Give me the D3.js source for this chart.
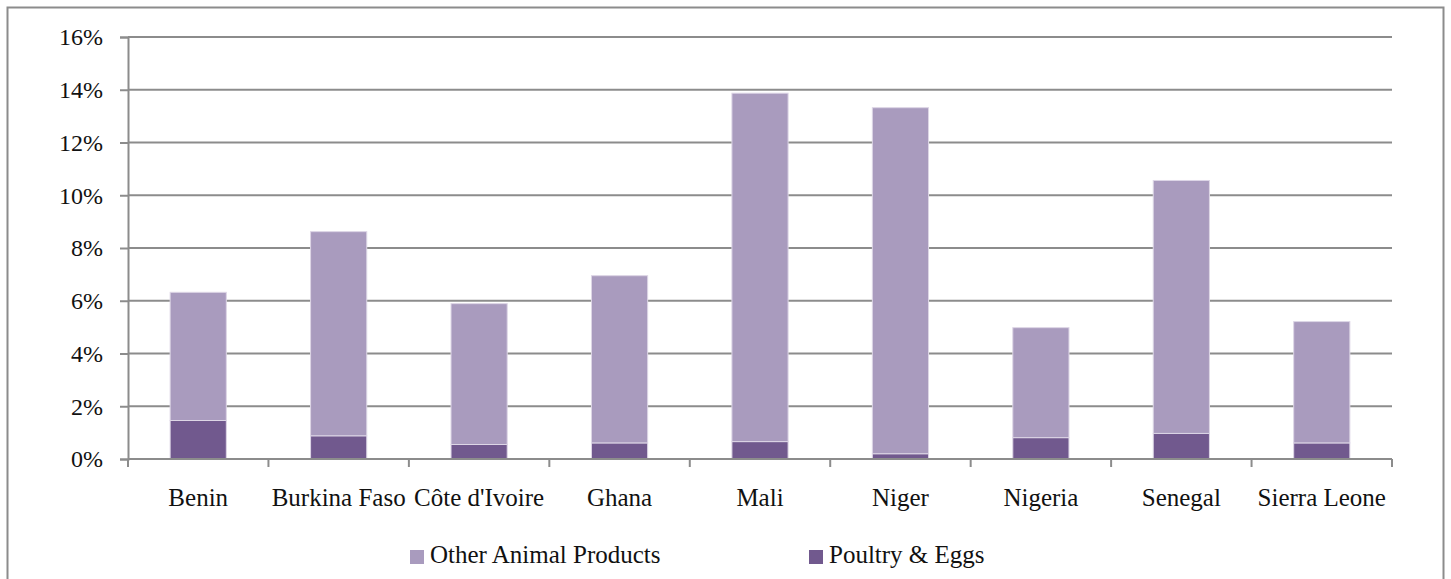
<!DOCTYPE html>
<html>
<head>
<meta charset="utf-8">
<script src="https://cdn.jsdelivr.net/npm/d3@7"></script>
<style>
  body { margin: 0; background: #fff; }
</style>
</head>
<body>
<div id="chart"></div>
<script>
var countries = ["Benin", "Burkina Faso", "Côte d'Ivoire", "Ghana", "Mali", "Niger", "Nigeria", "Senegal", "Sierra Leone"];
var poultryEggs = [1.46, 0.88, 0.55, 0.61, 0.66, 0.2, 0.81, 0.97, 0.61];
var otherAnimal = [4.86, 7.74, 5.34, 6.34, 13.21, 13.12, 4.17, 9.59, 4.6];
var yTicks = [0, 2, 4, 6, 8, 10, 12, 14, 16];
var seriesNames = ["Other Animal Products", "Poultry & Eggs"];
var seriesColors = ["#a99bbe", "#71598e"];

var FONT = "Liberation Serif";
var W = 1451, H = 579;
var margin = { top: 37, right: 59, bottom: 120, left: 128 };
var width = W - margin.left - margin.right,
    height = H - margin.top - margin.bottom;

var root = d3.select("#chart").append("svg")
    .attr("width", W)
    .attr("height", H);

// outer frame
root.append("rect")
    .attr("x", 7.5).attr("y", 7.5)
    .attr("width", 1436).attr("height", 590)
    .attr("fill", "none")
    .attr("stroke", "#8c8c8c")
    .attr("stroke-width", 2);

var svg = root.append("g")
    .attr("transform", "translate(" + margin.left + "," + margin.top + ")");

var x = d3.scaleBand()
    .domain(countries)
    .range([0, width])
    .paddingInner(0.6)
    .paddingOuter(0.3);

var y = d3.scaleLinear()
    .domain([0, 16])
    .range([height, 0]);

// gridlines
svg.selectAll(".grid")
    .data(yTicks.filter((d) => d > 0))
    .enter()
    .append("line")
    .attr("x1", 0)
    .attr("x2", width)
    .attr("y1", (d) => y(d))
    .attr("y2", (d) => y(d))
    .attr("stroke", "#8c8c8c")
    .attr("stroke-width", 2);

// stacked data
var rows = countries.map((c, i) => ({ country: c, poultry: poultryEggs[i], other: otherAnimal[i] }));
var stack = d3.stack().keys(["poultry", "other"]);
var layers = stack(rows);
var layerColor = { poultry: seriesColors[1], other: seriesColors[0] };

svg.selectAll(".layer")
    .data(layers)
    .enter()
    .append("g")
    .attr("fill", (d) => layerColor[d.key])
    .selectAll("rect")
    .data((d) => d)
    .enter()
    .append("rect")
    .attr("x", (d) => x(d.data.country))
    .attr("width", x.bandwidth())
    .attr("y", (d) => y(d[1]))
    .attr("height", (d) => y(d[0]) - y(d[1]))
    .attr("stroke", "#ddd6e6")
    .attr("stroke-width", 1);

// y axis
var yAxis = svg.append("g")
    .call(d3.axisLeft(y).tickValues(yTicks).tickSize(8).tickPadding(17).tickFormat((d) => d + "%"));
yAxis.attr("font-family", FONT);
yAxis.select(".domain").attr("stroke", "#8c8c8c").attr("stroke-width", 2);
yAxis.selectAll(".tick line").attr("stroke", "#8c8c8c").attr("stroke-width", 2);
yAxis.selectAll(".tick text")
    .attr("font-size", 24)
    .attr("fill", "#111")
    .attr("dy", "0.33em");

// x axis: ticks at band boundaries
var xAxis = svg.append("g").attr("transform", "translate(0," + height + ")");
xAxis.append("line")
    .attr("x1", 0).attr("x2", width)
    .attr("stroke", "#8c8c8c").attr("stroke-width", 2);
var step = x.step();
var bounds = d3.range(countries.length + 1).map((i) => i * step);
xAxis.selectAll(".xtick")
    .data(bounds)
    .enter()
    .append("line")
    .attr("x1", (d) => d).attr("x2", (d) => d)
    .attr("y1", 0).attr("y2", 8)
    .attr("stroke", "#8c8c8c").attr("stroke-width", 2);
xAxis.selectAll(".xlabel")
    .data(countries)
    .enter()
    .append("text")
    .attr("x", (d) => x(d) + x.bandwidth() / 2)
    .attr("y", 47)
    .attr("text-anchor", "middle")
    .attr("fill", "#111")
    .attr("font-family", FONT)
    .attr("font-size", 25)
    .text((d) => d);

// legend
var legendX = [410, 809];
var legend = root.selectAll(".legend")
    .data(seriesNames)
    .enter()
    .append("g")
    .attr("transform", (d, i) => "translate(" + legendX[i] + ",550)");
legend.append("rect")
    .attr("width", 14).attr("height", 14)
    .attr("fill", (d, i) => seriesColors[i]);
legend.append("text")
    .attr("x", 20)
    .attr("y", 13)
    .attr("fill", "#111")
    .attr("font-family", FONT)
    .attr("font-size", 25)
    .text((d) => d);
</script>
</body>
</html>
